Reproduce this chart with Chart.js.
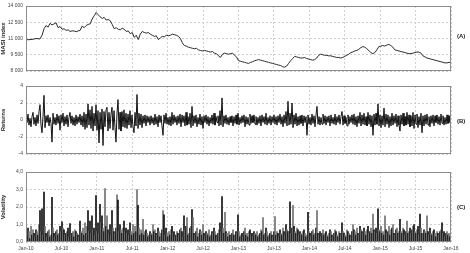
<!DOCTYPE html>
<html>
<head>
<meta charset="utf-8">
<script src="https://cdn.jsdelivr.net/npm/chart.js@4.4.1/dist/chart.umd.min.js"></script>
<style>
  html, body { margin:0; padding:0; background:#fff; }
  #wrap { position:relative; width:470px; height:253px; overflow:hidden; font-family:"Liberation Sans", Arial, sans-serif; }
  canvas { position:absolute; left:0; }
  .tag { position:absolute; left:457px; font-size:6px; color:#222; font-weight:bold; }
</style>
</head>
<body>
<div id="wrap">
  <canvas id="chartA" width="470" height="78" style="top:0px"></canvas>
  <canvas id="chartB" width="470" height="80" style="top:80px"></canvas>
  <canvas id="chartC" width="470" height="89" style="top:164px"></canvas>
  <div class="tag" style="top:33px">(A)</div>
  <div class="tag" style="top:118px">(B)</div>
  <div class="tag" style="top:204px">(C)</div>
</div>
<script>
// x axis labels, one every 6 months from Jan-10 to Jan-16
const tickLabels = ['Jan-10','Jul-10','Jan-11','Jul-11','Jan-12','Jul-12','Jan-13','Jul-13','Jan-14','Jul-14','Jan-15','Jul-15','Jan-16'];

// MASI index, evenly spaced samples over the period
const indexValues = [
  10950,10880,10900,10920,10950,11000,10980,10960,11300,11900,12200,12050,12400,12250,12350,12450,12000,12100,11850,11900,
  11750,11800,11650,11700,11700,11620,11700,11750,12150,12000,12200,12300,12350,12800,13100,13400,13200,13000,12850,12950,
  12700,12750,12650,12300,11900,12000,11850,11800,11950,11850,11650,11700,11450,11550,11100,11300,10900,11400,11650,11550,
  11500,11550,11400,11300,11200,11250,10900,11050,11200,11150,11300,11250,11300,11400,11350,11300,11200,11000,10600,10350,
  10300,10200,10150,10100,10050,10100,9950,9900,9850,9900,9850,9800,9750,9800,9650,9600,9400,9250,9550,9650,
  9600,9550,9600,9650,9450,9300,8950,8900,8850,8800,8750,8700,8800,8850,8950,9000,9050,9000,8950,8900,
  8850,8800,8750,8700,8650,8600,8550,8500,8400,8350,8450,8700,8950,9150,9350,9300,9250,9200,9200,9250,
  9150,9100,9050,9000,9050,9200,9450,9550,9500,9450,9450,9400,9400,9350,9300,9250,9250,9200,9250,9350,
  9450,9550,9700,9750,9850,9900,10000,10150,10250,10200,10050,9900,9700,9600,9700,9950,10250,10300,10350,10300,
  10400,10450,10350,10200,9950,9900,9850,9800,9750,9700,9650,9600,9600,9650,9700,9750,9750,9650,9400,9300,
  9200,9150,9100,9050,9000,8950,8900,8850,8800,8750,8750,8800,8800
];

// daily returns (%), sampled
const returnValues = [
  0.5,-0.3,0.7,-0.6,0.2,-0.8,0.4,0.9,-0.5,0.3,-0.7,0.6,-0.4,1.0,1.8,-0.6,-1.5,0.4,2.9,-0.9,0.5,-0.3,0.6,-0.7,0.3,
  -0.4,-2.6,0.8,-0.5,0.3,-0.6,0.7,-0.4,0.5,-1.2,0.6,-0.3,0.8,-0.7,0.4,-0.5,0.6,-0.8,0.3,0.9,-0.4,0.5,-0.6,0.3,-0.7,
  0.6,-0.5,0.4,-0.3,0.7,-0.6,0.5,-0.8,0.9,-1.1,0.7,-0.9,1.9,-0.6,1.2,-1.0,1.6,-1.3,0.8,-0.7,1.8,-1.2,1.1,-2.7,0.9,
  -1.1,1.3,-3.0,1.0,-0.8,1.2,1.5,-1.3,0.9,-1.0,0.7,1.5,-1.2,1.1,-0.9,-2.6,0.8,2.4,-1.1,0.9,-1.3,1.0,-0.8,1.2,-0.9,
  0.8,-1.0,0.7,-0.6,1.1,-0.9,0.6,-0.8,-1.5,0.9,-0.7,3.0,-1.0,0.8,-0.6,0.7,-0.9,0.5,-0.4,0.6,-0.7,0.5,-0.3,0.4,-0.6,
  0.5,-0.4,0.3,-0.6,0.7,-0.5,0.4,-0.8,0.6,-0.3,0.5,-0.7,-1.8,0.6,-0.4,0.8,-0.5,0.3,-0.6,0.4,-0.7,0.9,-0.5,0.6,-0.3,
  0.4,-0.6,0.5,-0.4,0.7,-0.8,0.6,-0.3,0.5,-0.7,0.9,-0.6,0.4,-0.5,0.8,-0.9,1.6,-0.7,0.5,-0.4,0.6,-0.8,0.3,-0.5,0.7,
  -0.6,0.4,-1.0,0.5,-0.3,0.6,-0.5,0.4,-0.7,0.3,-0.4,0.6,-0.5,0.8,-0.6,0.4,-0.3,0.5,-0.7,1.1,-0.6,2.6,-0.8,0.5,-0.4,
  0.6,-0.5,0.3,-0.6,0.4,-0.3,0.5,-0.7,0.4,-0.4,0.6,-0.5,0.8,-0.6,0.3,-0.4,0.5,-0.3,0.6,-0.8,0.4,-0.5,0.3,-0.6,0.7,
  -0.4,0.5,-0.3,0.6,-0.5,0.4,-0.6,0.3,-0.4,0.5,-0.7,0.6,-0.3,0.4,-0.5,0.8,-0.6,0.3,-0.4,0.5,-0.6,0.4,-0.3,0.6,-0.5,
  0.4,-0.6,0.5,-0.3,0.7,-0.5,0.4,-0.8,0.6,-0.4,1.0,-0.7,2.2,-0.6,0.8,-0.5,2.0,-0.9,0.6,-0.5,0.8,-0.7,0.4,-0.6,0.5,
  -0.4,0.6,-0.7,0.5,-0.3,0.4,-1.8,0.6,-0.5,0.3,-0.6,0.7,-0.4,0.5,-0.8,0.6,1.6,-0.5,0.4,-0.6,0.3,-0.5,0.7,-0.4,0.5,
  -0.6,0.4,-0.3,0.5,-0.7,0.6,-0.4,0.3,-0.5,0.7,-0.6,0.4,-0.3,0.6,-0.5,0.4,1.0,-0.6,0.5,-0.4,0.3,-0.7,0.6,-0.5,0.4,
  -0.3,0.6,-0.5,0.7,-0.6,0.4,-0.8,0.5,-0.4,0.9,-0.7,0.6,-0.5,0.8,-0.6,0.4,-0.7,0.9,-0.5,0.6,-0.8,0.5,-1.8,0.7,-0.6,
  0.8,-0.5,1.9,-0.7,0.6,-0.9,0.5,-0.6,1.4,-0.8,0.7,-0.5,0.6,-0.9,0.4,-0.7,0.8,-0.6,0.5,-0.4,0.7,-0.8,0.5,-0.6,-1.3,
  0.6,-0.5,0.8,-0.7,0.4,-0.6,0.9,-0.5,0.6,-0.8,0.5,-0.7,0.9,-1.0,0.6,-0.5,0.7,-0.9,0.4,-0.6,0.8,-1.5,0.5,-0.7,0.6,
  -0.5,0.7,-0.6,0.4,-0.8,0.5,-0.4,0.6,-0.7,0.5,-0.3,0.6,-0.5,0.4,-0.6,0.7,-0.4,0.5,-0.6,0.3,-0.5,0.6,-0.4,0.5,-0.3,
  0.4
];

// volatility, sampled on the same dates as the returns
const volatilityValues = [
  0.5,0.3,0.8,0.6,0.2,0.9,0.4,0.7,0.5,0.3,0.7,0.6,0.4,1.0,1.8,0.6,1.9,0.4,2.85,0.9,0.5,0.3,0.6,0.7,0.3,
  0.4,2.55,0.8,0.5,0.3,0.6,0.7,0.4,0.5,0.9,0.6,1.15,0.8,0.7,0.4,0.5,0.6,0.8,0.3,1.05,0.4,0.5,0.6,0.3,0.7,
  0.6,0.5,0.4,0.3,1.2,0.6,0.5,0.8,0.4,1.1,0.5,0.9,1.8,0.6,1.2,0.5,1.5,0.7,0.8,0.4,2.65,0.6,1.1,0.5,2.15,
  1.1,1.5,0.8,0.6,3.05,0.9,1.5,0.7,0.5,1.0,0.4,1.8,0.8,0.6,0.5,0.8,2.7,2.4,0.6,1.0,0.7,0.5,0.8,1.2,0.6,
  0.8,0.5,0.7,0.4,1.1,0.6,0.4,1.0,0.5,0.9,0.6,3.0,2.1,0.8,0.4,0.7,0.5,1.3,0.4,0.6,0.7,0.5,0.3,0.4,0.6,
  0.5,0.4,1.0,0.6,0.7,0.5,0.4,0.8,0.6,0.3,0.5,0.7,1.8,1.55,0.4,0.8,0.5,0.3,0.6,0.4,0.7,0.9,0.5,0.6,0.3,
  0.4,0.6,0.5,0.4,0.7,0.8,0.6,0.3,1.5,0.7,0.9,1.4,0.4,0.5,0.8,0.9,1.85,1.4,0.5,0.4,0.6,0.8,0.3,0.5,0.7,
  0.6,0.4,1.0,0.5,0.3,0.6,0.5,0.4,0.7,0.3,0.4,0.6,0.5,0.8,0.6,0.4,0.3,0.5,0.7,1.1,0.6,2.6,0.8,0.5,1.7,
  0.6,0.5,0.3,0.6,0.4,0.3,0.5,0.7,0.4,0.4,0.6,0.5,1.55,0.6,0.3,0.4,0.5,0.3,0.6,0.8,0.4,0.5,0.3,0.6,0.7,
  0.4,0.5,0.3,0.6,0.5,0.4,0.6,0.3,0.4,0.5,0.7,0.6,1.4,0.4,0.5,0.8,0.6,0.3,0.4,0.5,0.6,0.4,0.3,0.6,1.45,
  0.4,0.6,0.5,0.3,0.7,0.5,0.4,0.8,0.6,0.4,1.0,0.7,0.6,0.6,2.3,0.5,0.8,2.1,0.9,0.6,0.5,0.8,0.7,0.4,0.6,
  0.5,0.4,0.6,0.7,0.5,0.3,0.4,1.7,0.6,0.5,0.3,0.6,0.7,0.4,0.5,0.8,1.8,0.5,0.4,0.6,0.3,0.5,0.7,0.4,0.5,
  0.6,0.4,0.3,0.5,0.7,0.6,0.4,0.3,0.5,0.7,0.6,0.4,0.3,0.6,0.5,0.4,1.1,0.6,0.5,0.4,0.3,0.7,0.6,0.5,0.4,
  0.3,0.6,1.0,0.7,0.6,0.4,0.8,0.5,0.4,0.9,0.7,0.6,0.5,0.8,0.6,0.4,0.7,0.9,0.5,0.6,0.8,0.5,1.6,0.7,0.6,
  0.8,0.5,1.9,0.7,0.6,0.9,0.5,0.6,0.4,1.5,0.7,0.5,0.6,0.9,0.4,0.7,0.8,1.0,0.5,0.4,0.7,0.8,0.5,0.6,1.3,
  0.6,0.5,0.8,0.7,0.4,0.6,1.2,0.5,0.6,0.8,0.5,0.7,0.9,1.0,0.6,0.5,0.7,0.9,0.4,1.6,0.8,0.5,0.5,0.7,0.6,
  0.5,1.5,0.6,0.4,0.8,0.5,0.4,0.6,0.7,0.5,0.3,0.6,0.5,0.4,0.6,0.7,1.1,0.5,0.6,0.3,0.5,0.6,0.4,0.5,0.3,
  0.4
];

const MONTHS = 72; // Jan-10 .. Jan-16
function toPoints(arr){ return arr.map((v,i) => ({ x: i*MONTHS/(arr.length-1), y: v })); }

const FONT = { family: '"Liberation Sans", Arial, sans-serif', size: 5 };
const GRID = '#cfcfcf';

// draw a box round the plot area like the original
const framePlugin = {
  id: 'frame',
  afterDatasetsDraw(chart){
    const a = chart.chartArea, c = chart.ctx;
    c.save();
    c.strokeStyle = '#8c8c8c';
    c.lineWidth = 1;
    c.strokeRect(Math.round(a.left)+0.5, Math.round(a.top)+0.5, Math.round(a.right-a.left)-1, Math.round(a.bottom-a.top)-1);
    c.restore();
  }
};

function xAxis(showLabels){
  return {
    type: 'linear', min: 0, max: MONTHS, offset: false,
    afterFit: s => { s.height = showLabels ? 11 : 0; },
    ticks: { stepSize: 6, display: showLabels, autoSkip: false, maxRotation: 0, padding: 4,
             color: '#444', font: FONT, callback: v => tickLabels[Math.round(v/6)] },
    grid: { color: GRID, drawTicks: false, offset: false },
    border: { display: false, dash: [2,2] }
  };
}

function yAxis(title, min, max, step, fmt){
  return {
    min, max,
    afterFit: s => { s.width = 26; },
    ticks: { stepSize: step, color: '#444', font: FONT, padding: 3, callback: fmt },
    grid: { color: GRID, drawTicks: false },
    border: { display: false, dash: [2,2] },
    title: { display: true, text: title, color: '#222', padding: 0,
             font: { family: FONT.family, size: 6, weight: 'bold' } }
  };
}

const common = {
  responsive: false,
  animation: false,
  plugins: { legend: { display: false }, tooltip: { enabled: false } }
};

// (A) MASI index
new Chart(document.getElementById('chartA').getContext('2d'), {
  type: 'line',
  data: { datasets: [{ data: toPoints(indexValues), borderColor: '#2a2a2a', borderWidth: 1, pointRadius: 0, tension: 0 }] },
  options: { ...common,
    layout: { padding: { top: 2, bottom: 7, right: 19, left: 0 } },
    scales: {
      x: xAxis(false),
      y: yAxis('MASI index', 8000, 14000, 750, v => String(v).replace(/(\d)(\d{3})$/, '$1 $2'))
    }
  },
  plugins: [framePlugin]
});

// (B) returns
new Chart(document.getElementById('chartB').getContext('2d'), {
  type: 'line',
  data: { datasets: [{ data: toPoints(returnValues), borderColor: '#111111', borderWidth: 1, pointRadius: 0, tension: 0 }] },
  options: { ...common,
    layout: { padding: { top: 6, bottom: 4, right: 19, left: 0 } },
    scales: {
      x: xAxis(false),
      y: yAxis('Returns', -4, 4, 1, v => v)
    }
  },
  plugins: [framePlugin]
});

// (C) volatility
new Chart(document.getElementById('chartC').getContext('2d'), {
  type: 'bar',
  data: { datasets: [{ data: toPoints(volatilityValues),
    backgroundColor: c => (c.dataIndex % 2 ? '#707070' : '#111111'),
    barPercentage: 1, categoryPercentage: 1, borderWidth: 0 }] },
  options: { ...common,
    layout: { padding: { top: 8, bottom: 0, right: 19, left: 0 } },
    scales: {
      x: xAxis(true),
      y: yAxis('Volatility', 0, 4, 0.5, v => v.toFixed(1).replace('.', ','))
    }
  },
  plugins: [framePlugin]
});
</script>
</body>
</html>
